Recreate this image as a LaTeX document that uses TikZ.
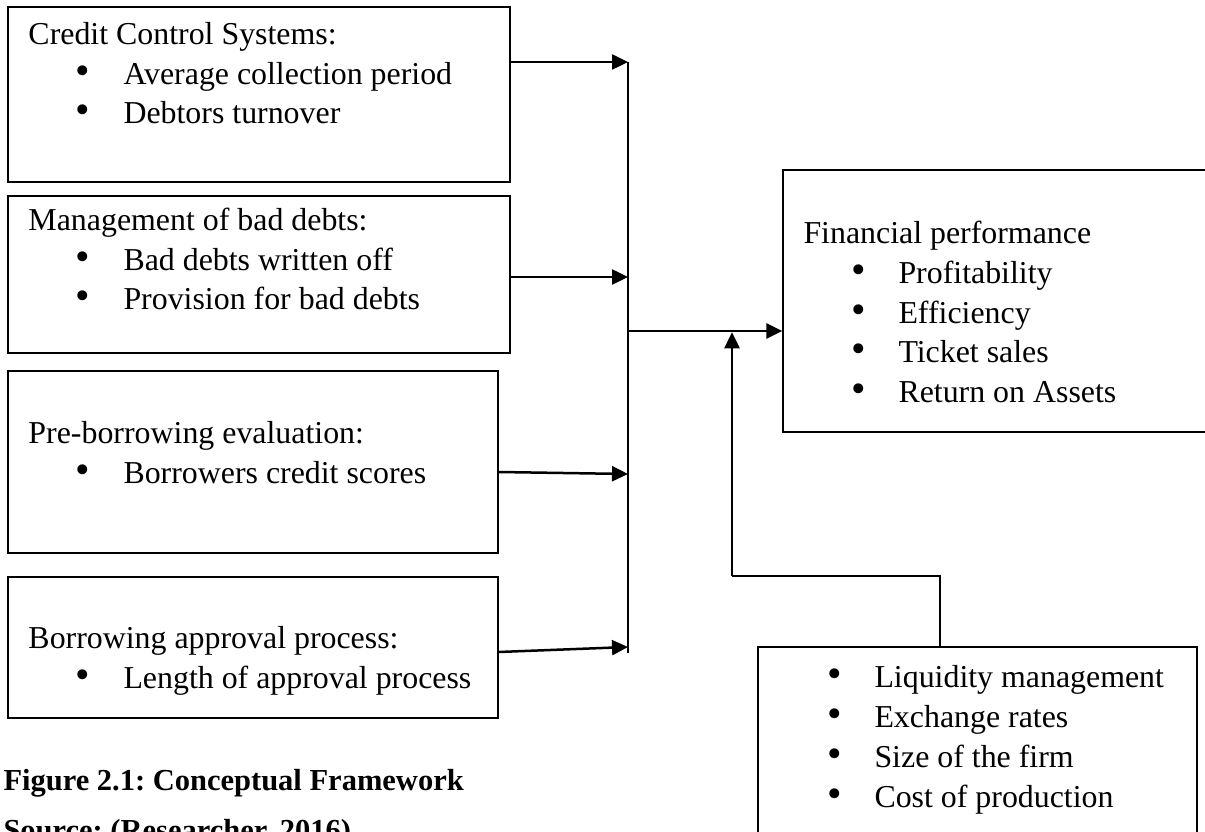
\documentclass[tikz,border=0pt]{standalone}
\usepackage{fontspec}
\setmainfont{Liberation Serif}
\usetikzlibrary{positioning,arrows.meta,calc}

\tikzset{
  box/.style={draw, line width=0.5pt, inner sep=0pt},
  txt/.style={anchor=base west, inner sep=0pt, align=left,
              font=\fontsize{12.75}{15.8}\selectfont},
  arr/.style={-{Triangle[length=6.4pt,width=6pt]}, line width=1pt},
  bus/.style={line width=0.7pt},
  link/.style={line width=0.6pt},
}
\newcommand{\itm}[1]{\hspace*{19pt}\makebox[19pt][l]{\scalebox{1.3}{\textbullet}}#1}

\begin{document}
\frenchspacing
\begin{tikzpicture}[x=0.4pt, y=-0.4pt]
  \clip (0,0) rectangle (1205,832);

  % independent variables (text nodes sit on their last baseline)
  \node[box, minimum width=200.8pt, minimum height=70pt] (ccs) at (259,94.5) {};
  \node[txt] (ccsT) at (28,124) {Credit Control Systems:\\
    \itm{Average collection period}\\ \itm{Debtors turnover}};

  \node[box, minimum width=200.8pt, minimum height=62.8pt] (bad) at (259,274.5) {};
  \node[txt] (badT) at (28,310) {Management of bad debts:\\
    \itm{Bad debts written off}\\ \itm{Provision for bad debts}};

  \node[box, minimum width=196pt, minimum height=72.8pt] (pre) at (253,462) {};
  \node[txt] (preT) at (28,483) {Pre-borrowing evaluation:\\
    \itm{Borrowers credit scores}};

  \node[box, minimum width=196pt, minimum height=56.4pt] (appr) at (253,647.5) {};
  \node[txt] (apprT) at (28,688) {Borrowing approval process:\\
    \itm{Length of approval process}};

  % dependent variable
  \node[box, minimum width=172.8pt, minimum height=104.8pt] (fp) at (999,301) {};
  \node[txt] (fpT) at (803,402) {Financial performance\\
    \itm{Profitability}\\ \itm{Efficiency}\\ \itm{Ticket sales}\\ \itm{Return on Assets}};

  % intervening variables
  \node[box, minimum width=175.6pt, minimum height=89.2pt] (mod) at (977.5,758.5) {};
  \node[txt, font=\fontsize{12.75}{15.9}\selectfont] (modT) at (779,807) {\itm{Liquidity management}\\
    \itm{Exchange rates}\\ \itm{Size of the firm}\\ \itm{Cost of production}};

  % caption
  \node[txt, font=\bfseries\fontsize{12.2}{20}\selectfont] (cap) at (3,840)
    {Figure 2.1: Conceptual Framework\\ Source: (Researcher, 2016)};

  % collecting line
  \coordinate (bt) at (628,62);
  \coordinate (j2) at (628,277);
  \coordinate (hub) at (628,331);
  \coordinate (j3) at (628,474);
  \coordinate (j4) at (628,647);
  \coordinate (bb) at (628,653);
  \draw[bus] (bt) -- (bb);

  \draw[arr] (ccs.east |- bt) -- (bt);
  \draw[arr] (bad.east |- j2) -- (j2);
  \draw[arr] ([yshift=-4pt]pre.east) -- (j3);
  \draw[arr] ([yshift=-1.8pt]appr.east) -- (j4);
  \draw[arr] (hub) -- (fp.west |- hub);

  % moderator connector
  \coordinate (bend) at (940,576);
  \coordinate (bend2) at (732,576);
  \draw[link] (bend |- mod.north) -- (bend) -- (bend2);
  \draw[arr] (bend2) -- ([yshift=-0.5pt]bend2 |- hub);
\end{tikzpicture}
\end{document}
